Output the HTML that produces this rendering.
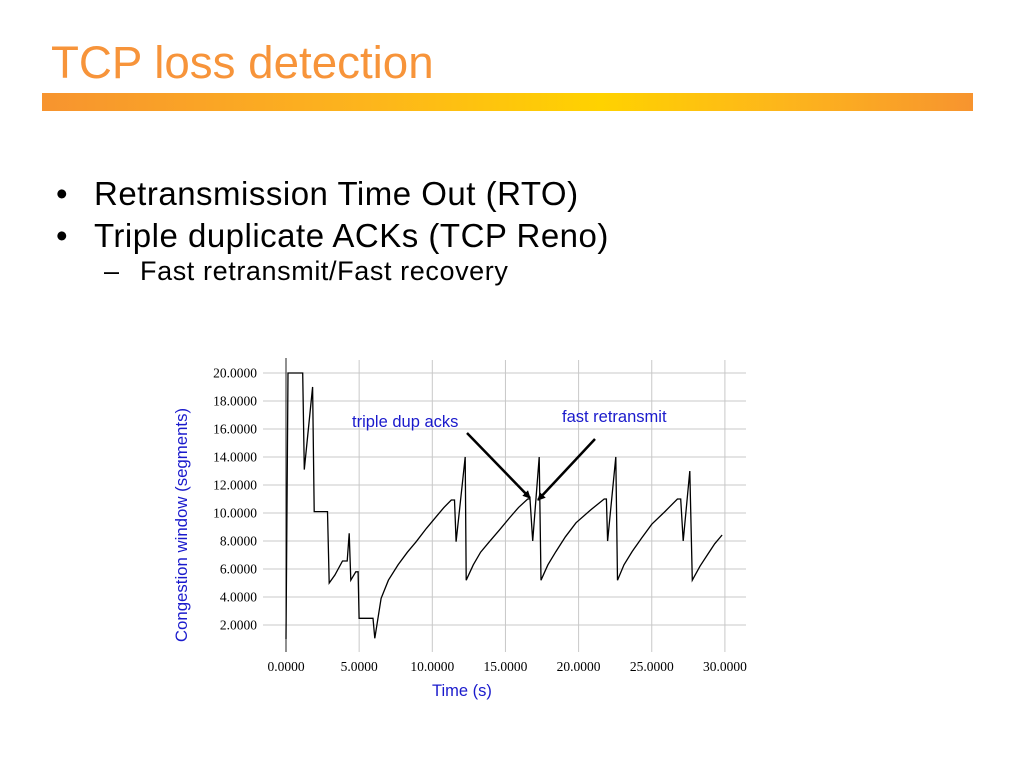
<!DOCTYPE html>
<html><head><meta charset="utf-8"><style>
body{margin:0;width:1024px;height:768px;background:#fff;position:relative;overflow:hidden;font-family:"Liberation Sans",sans-serif}
.abs{position:absolute;white-space:nowrap}
</style></head><body>
<div class="abs" style="left:51px;top:36px;font-size:45.7px;color:#f7943a;line-height:54px">TCP loss detection</div>
<div class="abs" style="left:42px;top:93px;width:931px;height:18px;background:linear-gradient(90deg,#f7942f 0%,#fdb51c 35%,#ffd200 60%,#fdb51c 80%,#f7942f 100%)"></div>
<div class="abs" style="left:56px;top:172px;font-size:33px;line-height:44px;color:#000">•<span style="position:absolute;left:38px;letter-spacing:0.5px">Retransmission Time Out (RTO)</span></div>
<div class="abs" style="left:56px;top:214px;font-size:33px;line-height:44px;color:#000">•<span style="position:absolute;left:38px;letter-spacing:0.5px">Triple duplicate ACKs (TCP Reno)</span></div>
<div class="abs" style="left:104px;top:253px;font-size:27px;line-height:36px;color:#000">–<span style="position:absolute;left:36px;letter-spacing:0.6px">Fast retransmit/Fast recovery</span></div>
<svg id="chart" class="abs" style="left:0;top:0" width="1024" height="768"></svg>
<script>
const yTicks=[2,4,6,8,10,12,14,16,18,20];
const xTicks=[0,5,10,15,20,25,30];
const times=[0,0.14,1.14,1.25,1.82,1.93,2.84,2.95,3.34,3.86,4.18,4.32,4.43,4.77,4.93,5.0,5.95,6.07,6.5,7.0,7.66,8.3,8.9,9.6,10.27,10.8,11.3,11.52,11.63,12.25,12.32,12.8,13.3,13.9,14.6,15.27,15.9,16.52,16.68,16.86,17.31,17.43,17.9,18.45,19.1,19.82,20.8,21.75,21.9,21.98,22.54,22.66,23.1,23.66,24.3,25.0,25.9,26.75,26.98,27.15,27.6,27.77,28.3,28.8,29.3,29.81];
const cwnd=[1,20,20,13.1,19,10.1,10.1,5.0,5.57,6.57,6.57,8.55,5.2,5.8,5.8,2.48,2.48,1.05,3.9,5.2,6.3,7.2,7.95,8.9,9.74,10.4,10.93,10.93,7.95,14,5.2,6.3,7.2,7.95,8.8,9.64,10.4,11,11,8,14,5.2,6.3,7.24,8.3,9.3,10.2,11,11,8,14,5.2,6.3,7.24,8.2,9.2,10.1,11,11,8,13,5.2,6.2,7.0,7.8,8.43];
const NS="http://www.w3.org/2000/svg";
const svg=document.getElementById('chart');
const X=v=>286+v*14.63;
const Y=v=>653-v*14;
function mk(t,a){const e=document.createElementNS(NS,t);for(const k in a)e.setAttribute(k,a[k]);svg.appendChild(e);return e;}
yTicks.forEach(v=>{
 const l=mk('line',{x1:263,x2:746,y1:Y(v),y2:Y(v),stroke:'#c8c8c8','stroke-width':1});
 
 
 const t=mk('text',{x:257,y:Y(v)+4.5,'text-anchor':'end','font-family':'Liberation Serif,serif','font-size':13.5,fill:'#000'});
 t.textContent=v.toFixed(4);
 
 
});
xTicks.forEach(v=>{
 if(v>0){const l=mk('line',{x1:X(v),x2:X(v),y1:360,y2:652,stroke:'#c8c8c8','stroke-width':1});
 
 }
 const t=mk('text',{x:X(v),y:671,'text-anchor':'middle','font-family':'Liberation Serif,serif','font-size':13.5,fill:'#000'});
 t.textContent=v.toFixed(4);
 
 
});
const ax=mk('line',{x1:286,x2:286,y1:358,y2:652,stroke:'#222','stroke-width':1});


const pts=times.map((t,i)=>X(t).toFixed(1)+','+Y(cwnd[i]).toFixed(1)).join(' ');
const pl=mk('polyline',{points:pts,fill:'none',stroke:'#000','stroke-width':1.3});


const d=mk('defs',{});d.innerHTML='<marker id="ah" markerWidth="8" markerHeight="8" refX="7" refY="4" orient="auto" markerUnits="userSpaceOnUse"><path d="M0,0 L8,4 L0,8 z" fill="#000"/></marker>';
const a1=mk('line',{x1:467,y1:433,x2:530,y2:498,stroke:'#000','stroke-width':2.5,'marker-end':'url(#ah)'});


const a2=mk('line',{x1:595,y1:439,x2:538,y2:500,stroke:'#000','stroke-width':2.5,'marker-end':'url(#ah)'});


function txt(s,x,y,a,name,fs,extra){const t=mk('text',Object.assign({x:x,y:y,'text-anchor':a,'font-family':'Liberation Sans,sans-serif','font-size':fs,fill:'#1a1acc'},extra||{}));t.textContent=s;return t;}
txt('triple dup acks',352,427,'start','triple-dup-label',16.5);
txt('fast retransmit',562,422,'start','fast-retransmit-label',16.5);
txt('Time (s)',462,696,'middle','x-axis-title',16.5);
txt('Congestion window (segments)',0,0,'middle','y-axis-title',16.8,{transform:'translate(187,525) rotate(-90)'});
</script>
</body></html>
